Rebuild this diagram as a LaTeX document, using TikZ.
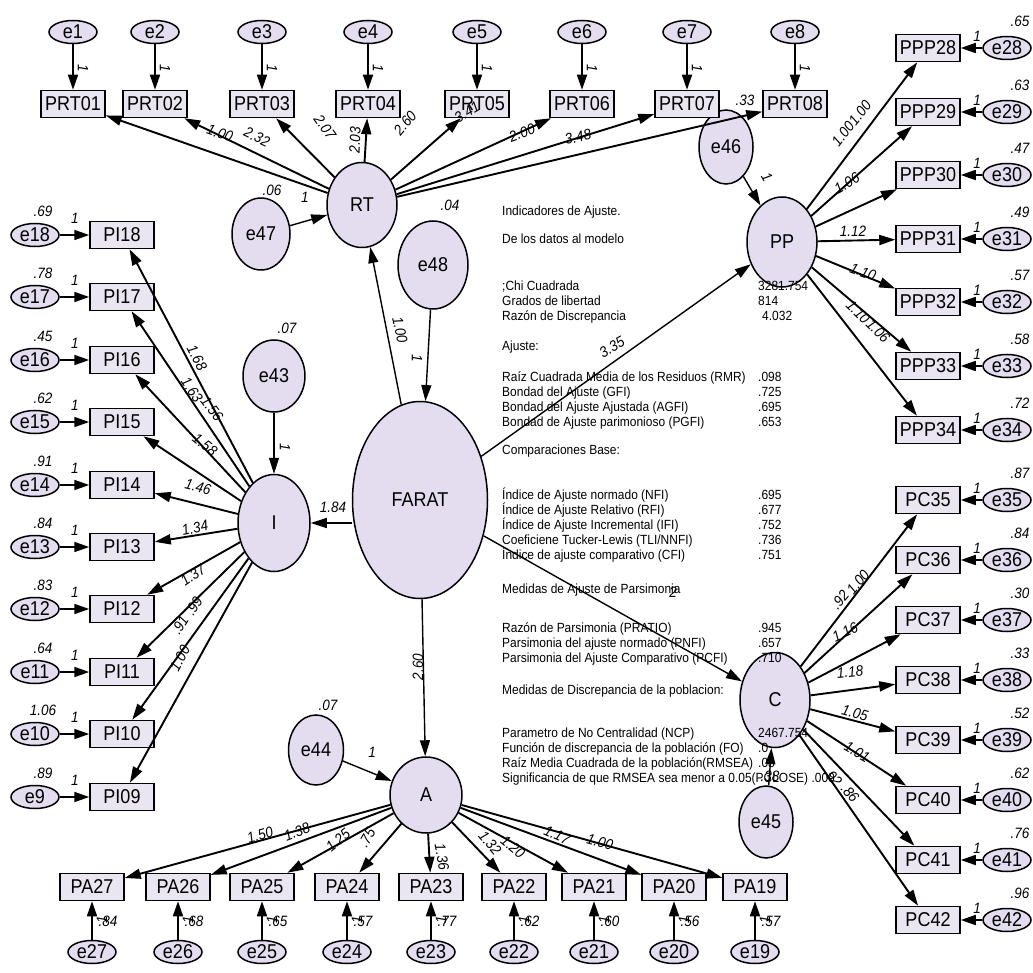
\documentclass[tikz,border=0pt]{standalone}
\usepackage{fontspec}
\setmainfont{Liberation Sans}
\newfontfamily\amosfont{Liberation Sans}[FakeStretch=0.9]
\usetikzlibrary{arrows.meta,shapes.geometric}
\definecolor{boxfill}{RGB}{233,229,241}
\definecolor{latfill}{RGB}{228,220,239}
\tikzset{
  obs/.style={draw, line width=1.5pt, fill=boxfill, minimum width=64pt, minimum height=27pt, inner sep=0pt, font=\amosfont\fontsize{20}{20}\selectfont},
  err/.style={ellipse, draw, line width=1.5pt, fill=latfill, minimum width=48pt, minimum height=23pt, inner sep=0pt, font=\amosfont\fontsize{20}{20}\selectfont},
  lat/.style={ellipse, draw, line width=1.5pt, fill=latfill, inner sep=0pt, font=\amosfont\fontsize{20}{20}\selectfont},
  est/.style={inner sep=0pt, font=\amosfont\fontsize{15}{15}\selectfont\itshape},
  fitline/.style={inner sep=0pt, anchor=west, text height=9.5pt, text depth=2.5pt, font=\amosfont\fontsize{13.3}{14}\selectfont},
  load/.style={line width=1.9pt, -{Triangle[length=16pt,width=10pt]}},
  regr/.style={line width=1.4pt, -{Triangle[length=16pt,width=10pt]}},
  errarrow/.style={line width=1.7pt, -{Triangle[length=15pt,width=10pt]}}
}
\begin{document}
\begin{tikzpicture}[x=1pt,y=-1pt]
%%%%% START %%%%%
\useasboundingbox (0,0) rectangle (1033,973);

% latent variables and disturbances
\node[lat, minimum width=135pt, minimum height=197pt] (FARAT) at (420,500) {FARAT};
\node[lat, minimum width=70pt, minimum height=85pt] (RT) at (362,205) {RT};
\node[lat, minimum width=72pt, minimum height=97pt] (I) at (274,523) {I};
\node[lat, minimum width=72pt, minimum height=76pt] (A) at (426,795) {A};
\node[lat, minimum width=70pt, minimum height=90pt] (PP) at (782,242) {PP};
\node[lat, minimum width=70pt, minimum height=95pt] (C) at (775,700) {C};
\node[lat, minimum width=58pt, minimum height=72pt] (e47) at (261,234) {e47};
\node[lat, minimum width=70pt, minimum height=88pt] (e48) at (433,265) {e48};
\node[lat, minimum width=62pt, minimum height=72pt] (e43) at (274,376) {e43};
\node[lat, minimum width=55pt, minimum height=70pt] (e44) at (316,750) {e44};
\node[lat, minimum width=54pt, minimum height=74pt] (e46) at (726,147) {e46};
\node[lat, minimum width=54pt, minimum height=72pt] (e45) at (766,822) {e45};

% top row
\node[err] (e1) at (73,32) {e1};
\node[err] (e2) at (155,32) {e2};
\node[err] (e3) at (262,32) {e3};
\node[err] (e4) at (368,32) {e4};
\node[err] (e5) at (477,32) {e5};
\node[err] (e6) at (582,32) {e6};
\node[err] (e7) at (687,32) {e7};
\node[err] (e8) at (795,32) {e8};
\node[obs] (PRT01) at (73,104) {PRT01};
\node[obs] (PRT02) at (155,104) {PRT02};
\node[obs] (PRT03) at (262,104) {PRT03};
\node[obs] (PRT04) at (368,104) {PRT04};
\node[obs] (PRT05) at (477,104) {PRT05};
\node[obs] (PRT06) at (582,104) {PRT06};
\node[obs] (PRT07) at (687,104) {PRT07};
\node[obs] (PRT08) at (795,104) {PRT08};

% left column
\node[err] (e18) at (35,235) {e18};
\node[err] (e17) at (35,297) {e17};
\node[err] (e16) at (35,360) {e16};
\node[err] (e15) at (35,422) {e15};
\node[err] (e14) at (35,485) {e14};
\node[err] (e13) at (35,547) {e13};
\node[err] (e12) at (35,609) {e12};
\node[err] (e11) at (35,672) {e11};
\node[err] (e10) at (35,734) {e10};
\node[err] (e9) at (35,797) {e9};
\node[obs] (PI18) at (122,235) {PI18};
\node[obs] (PI17) at (122,297) {PI17};
\node[obs] (PI16) at (122,360) {PI16};
\node[obs] (PI15) at (122,422) {PI15};
\node[obs] (PI14) at (122,485) {PI14};
\node[obs] (PI13) at (122,547) {PI13};
\node[obs] (PI12) at (122,609) {PI12};
\node[obs] (PI11) at (122,672) {PI11};
\node[obs] (PI10) at (122,734) {PI10};
\node[obs] (PI09) at (122,797) {PI09};

% bottom row
\node[obs] (PA27) at (92,887) {PA27};
\node[obs] (PA26) at (178,887) {PA26};
\node[obs] (PA25) at (262,887) {PA25};
\node[obs] (PA24) at (347,887) {PA24};
\node[obs] (PA23) at (431,887) {PA23};
\node[obs] (PA22) at (514,887) {PA22};
\node[obs] (PA21) at (594,887) {PA21};
\node[obs] (PA20) at (674,887) {PA20};
\node[obs] (PA19) at (755,887) {PA19};
\node[err] (e27) at (92,952) {e27};
\node[err] (e26) at (178,952) {e26};
\node[err] (e25) at (262,952) {e25};
\node[err] (e24) at (347,952) {e24};
\node[err] (e23) at (431,952) {e23};
\node[err] (e22) at (514,952) {e22};
\node[err] (e21) at (594,952) {e21};
\node[err] (e20) at (674,952) {e20};
\node[err] (e19) at (755,952) {e19};

% right column
\node[obs] (PPP28) at (928,48) {PPP28};
\node[obs] (PPP29) at (928,112) {PPP29};
\node[obs] (PPP30) at (928,175) {PPP30};
\node[obs] (PPP31) at (928,239) {PPP31};
\node[obs] (PPP32) at (928,302) {PPP32};
\node[obs] (PPP33) at (928,366) {PPP33};
\node[obs] (PPP34) at (928,430) {PPP34};
\node[obs] (PC35) at (928,500) {PC35};
\node[obs] (PC36) at (928,560) {PC36};
\node[obs] (PC37) at (928,620) {PC37};
\node[obs] (PC38) at (928,680) {PC38};
\node[obs] (PC39) at (928,740) {PC39};
\node[obs] (PC40) at (928,800) {PC40};
\node[obs] (PC41) at (928,860) {PC41};
\node[obs] (PC42) at (928,920) {PC42};
\node[err] (e28) at (1007,48) {e28};
\node[err] (e29) at (1007,112) {e29};
\node[err] (e30) at (1007,175) {e30};
\node[err] (e31) at (1007,239) {e31};
\node[err] (e32) at (1007,302) {e32};
\node[err] (e33) at (1007,366) {e33};
\node[err] (e34) at (1007,430) {e34};
\node[err] (e35) at (1007,500) {e35};
\node[err] (e36) at (1007,560) {e36};
\node[err] (e37) at (1007,620) {e37};
\node[err] (e38) at (1007,680) {e38};
\node[err] (e39) at (1007,740) {e39};
\node[err] (e40) at (1007,800) {e40};
\node[err] (e41) at (1007,860) {e41};
\node[err] (e42) at (1007,920) {e42};

% fit indices
\node[fitline] (t1) at (502,212) {Indicadores de Ajuste.};
\node[fitline] (t2) at (502,240) {De los datos al modelo};
\node[fitline] (t3) at (502,287) {;Chi Cuadrada};
\node[fitline] (t4) at (502,302) {Grados de libertad};
\node[fitline] (t5) at (502,317) {Razón de Discrepancia};
\node[fitline] (t6) at (502,347) {Ajuste:};
\node[fitline] (t7) at (502,378) {Raíz Cuadrada Media de los Residuos (RMR)};
\node[fitline] (t8) at (502,393) {Bondad del Ajuste (GFI)};
\node[fitline] (t9) at (502,408) {Bondad del Ajuste Ajustada (AGFI)};
\node[fitline] (t10) at (502,423) {Bondad de Ajuste parimonioso (PGFI)};
\node[fitline] (t11) at (502,451) {Comparaciones Base:};
\node[fitline] (t12) at (502,496) {Índice de Ajuste normado (NFI)};
\node[fitline] (t13) at (502,511) {Índice de Ajuste Relativo (RFI)};
\node[fitline] (t14) at (502,526) {Índice de Ajuste Incremental (IFI)};
\node[fitline] (t15) at (502,541) {Coeficiene Tucker-Lewis (TLI/NNFI)};
\node[fitline] (t16) at (502,556) {Índice de ajuste comparativo (CFI)};
\node[fitline] (t17) at (502,590) {Medidas de Ajuste de Parsimonia};
\node[fitline] (t18) at (502,629) {Razón de Parsimonia (PRATIO)};
\node[fitline] (t19) at (502,644) {Parsimonia del ajuste normado (PNFI)};
\node[fitline] (t20) at (502,659) {Parsimonia del Ajuste Comparativo (PCFI)};
\node[fitline] (t21) at (502,691) {Medidas de Discrepancia de la poblacion:};
\node[fitline] (t22) at (502,734) {Parametro de No Centralidad (NCP)};
\node[fitline] (t23) at (502,749) {Función de discrepancia de la población (FO)};
\node[fitline] (t24) at (502,764) {Raíz Media Cuadrada de la población(RMSEA)};
\node[fitline] (t25) at (502,779) {Significancia de que RMSEA sea menor a 0.05(PCLOSE) .000};
\node[fitline] (f3) at (758,287) {3281.754};
\node[fitline] (f4) at (758,302) {814};
\node[fitline] (f5) at (762,317) {4.032};
\node[fitline] (f7) at (758,378) {.098};
\node[fitline] (f8) at (758,393) {.725};
\node[fitline] (f9) at (758,408) {.695};
\node[fitline] (f10) at (758,423) {.653};
\node[fitline] (f12) at (758,496) {.695};
\node[fitline] (f13) at (758,511) {.677};
\node[fitline] (f14) at (758,526) {.752};
\node[fitline] (f15) at (758,541) {.736};
\node[fitline] (f16) at (758,556) {.751};
\node[fitline] (f18) at (758,629) {.945};
\node[fitline] (f19) at (758,644) {.657};
\node[fitline] (f20) at (758,659) {.710};
\node[fitline] (f22) at (758,734) {2467.754};
\node[fitline] (f23) at (758,749) {.0};
\node[fitline] (f24) at (758,764) {.08};

% error paths
\draw[errarrow] (e1) -- (PRT01);
\draw[errarrow] (e2) -- (PRT02);
\draw[errarrow] (e3) -- (PRT03);
\draw[errarrow] (e4) -- (PRT04);
\draw[errarrow] (e5) -- (PRT05);
\draw[errarrow] (e6) -- (PRT06);
\draw[errarrow] (e7) -- (PRT07);
\draw[errarrow] (e8) -- (PRT08);
\draw[errarrow] (e18) -- (PI18);
\draw[errarrow] (e17) -- (PI17);
\draw[errarrow] (e16) -- (PI16);
\draw[errarrow] (e15) -- (PI15);
\draw[errarrow] (e14) -- (PI14);
\draw[errarrow] (e13) -- (PI13);
\draw[errarrow] (e12) -- (PI12);
\draw[errarrow] (e11) -- (PI11);
\draw[errarrow] (e10) -- (PI10);
\draw[errarrow] (e9) -- (PI09);
\draw[errarrow] (e27) -- (PA27);
\draw[errarrow] (e26) -- (PA26);
\draw[errarrow] (e25) -- (PA25);
\draw[errarrow] (e24) -- (PA24);
\draw[errarrow] (e23) -- (PA23);
\draw[errarrow] (e22) -- (PA22);
\draw[errarrow] (e21) -- (PA21);
\draw[errarrow] (e20) -- (PA20);
\draw[errarrow] (e19) -- (PA19);
\draw[errarrow] (e28) -- (PPP28);
\draw[errarrow] (e29) -- (PPP29);
\draw[errarrow] (e30) -- (PPP30);
\draw[errarrow] (e31) -- (PPP31);
\draw[errarrow] (e32) -- (PPP32);
\draw[errarrow] (e33) -- (PPP33);
\draw[errarrow] (e34) -- (PPP34);
\draw[errarrow] (e35) -- (PC35);
\draw[errarrow] (e36) -- (PC36);
\draw[errarrow] (e37) -- (PC37);
\draw[errarrow] (e38) -- (PC38);
\draw[errarrow] (e39) -- (PC39);
\draw[errarrow] (e40) -- (PC40);
\draw[errarrow] (e41) -- (PC41);
\draw[errarrow] (e42) -- (PC42);

% loadings
\draw[load] (RT) -- (PRT01);
\draw[load] (RT) -- (PRT02);
\draw[load] (RT) -- (PRT03);
\draw[load] (RT) -- (PRT04);
\draw[load] (RT) -- (PRT05);
\draw[load] (RT) -- (PRT06);
\draw[load] (RT) -- (PRT07);
\draw[load] (RT) -- (PRT08);
\draw[load] (I) -- (PI18);
\draw[load] (I) -- (PI17);
\draw[load] (I) -- (PI16);
\draw[load] (I) -- (PI15);
\draw[load] (I) -- (PI14);
\draw[load] (I) -- (PI13);
\draw[load] (I) -- (PI12);
\draw[load] (I) -- (PI11);
\draw[load] (I) -- (PI10);
\draw[load] (I) -- (PI09);
\draw[load] (A) -- (PA27);
\draw[load] (A) -- (PA26);
\draw[load] (A) -- (PA25);
\draw[load] (A) -- (PA24);
\draw[load] (A) -- (PA23);
\draw[load] (A) -- (PA22);
\draw[load] (A) -- (PA21);
\draw[load] (A) -- (PA20);
\draw[load] (A) -- (PA19);
\draw[load] (PP) -- (PPP28);
\draw[load] (PP) -- (PPP29);
\draw[load] (PP) -- (PPP30);
\draw[load] (PP) -- (PPP31);
\draw[load] (PP) -- (PPP32);
\draw[load] (PP) -- (PPP33);
\draw[load] (PP) -- (PPP34);
\draw[load] (C) -- (PC35);
\draw[load] (C) -- (PC36);
\draw[load] (C) -- (PC37);
\draw[load] (C) -- (PC38);
\draw[load] (C) -- (PC39);
\draw[load] (C) -- (PC40);
\draw[load] (C) -- (PC41);
\draw[load] (C) -- (PC42);

% structural paths
\draw[regr] (FARAT) -- (RT);
\draw[regr] (I -| FARAT.west) -- (I);
\draw[regr] (FARAT) -- (A);
\draw[regr] (FARAT) -- (PP);
\draw[regr] (FARAT) -- (C);
\draw[regr] (e47) -- (RT);
\draw[regr] (e48) -- (FARAT);
\draw[regr] (e43) -- (I);
\draw[regr] (e44) -- (A);
\draw[regr] (e46) -- (PP);
\draw[regr] (e45) -- (C);

% estimates, top
\node[est, rotate=-90] (o1) at (83,68) {1};
\node[est, rotate=-90] (o2) at (165,68) {1};
\node[est, rotate=-90] (o3) at (272,68) {1};
\node[est, rotate=-90] (o4) at (378,68) {1};
\node[est, rotate=-90] (o5) at (487,68) {1};
\node[est, rotate=-90] (o6) at (592,68) {1};
\node[est, rotate=-90] (o7) at (697,68) {1};
\node[est, rotate=-90] (o8) at (805,68) {1};
\node[est, rotate=-19] (k1) at (220,133) {1.00};
\node[est, rotate=-26] (k2) at (257,137) {2.32};
\node[est, rotate=-55] (k3) at (325,127) {2.07};
\node[est, rotate=88] (k4) at (355,140) {2.03};
\node[est, rotate=50] (k5) at (405,123) {2.60};
\node[est, rotate=30] (k6) at (467,112) {3.41};
\node[est, rotate=20] (k7) at (522,133) {2.00};
\node[est, rotate=12] (k8) at (578,137) {3.48};

% estimates, left
\node[est] (v18) at (43,211) {.69};
\node[est] (v17) at (43,273) {.78};
\node[est] (v16) at (43,336) {.45};
\node[est] (v15) at (43,398) {.62};
\node[est] (v14) at (43,461) {.91};
\node[est] (v13) at (43,523) {.84};
\node[est] (v12) at (43,585) {.83};
\node[est] (v11) at (43,648) {.64};
\node[est] (v10) at (43,710) {1.06};
\node[est] (v9) at (43,773) {.89};
\node[est] (o18) at (75,218) {1};
\node[est] (o17) at (75,280) {1};
\node[est] (o16) at (75,343) {1};
\node[est] (o15) at (75,405) {1};
\node[est] (o14) at (75,468) {1};
\node[est] (o13) at (75,530) {1};
\node[est] (o12) at (75,592) {1};
\node[est] (o11) at (75,655) {1};
\node[est] (o10) at (75,717) {1};
\node[est] (o9) at (75,780) {1};
\node[est, rotate=-62] (k18) at (197,358) {1.68};
\node[est, rotate=-56] (k17) at (192,390) {1.63};
\node[est, rotate=-52] (k16) at (212,409) {1.56};
\node[est, rotate=-38] (k15) at (205,445) {1.58};
\node[est, rotate=-14] (k14) at (198,487) {1.46};
\node[est, rotate=12] (k13) at (195,528) {1.34};
\node[est, rotate=35] (k12) at (193,575) {1.37};
\node[est, rotate=58] (k11) at (194,606) {.99};
\node[est, rotate=58] (k10) at (180,625) {.91};
\node[est, rotate=62] (k9) at (180,658) {1.00};

% estimates, bottom
\node[est, rotate=90] (o27) at (102,920) {1};
\node[est, rotate=90] (o26) at (188,920) {1};
\node[est, rotate=90] (o25) at (272,920) {1};
\node[est, rotate=90] (o24) at (357,920) {1};
\node[est, rotate=90] (o23) at (441,920) {1};
\node[est, rotate=90] (o22) at (524,920) {1};
\node[est, rotate=90] (o21) at (604,920) {1};
\node[est, rotate=90] (o20) at (684,920) {1};
\node[est, rotate=90] (o19) at (765,920) {1};
\node[est] (v27) at (108,921) {.84};
\node[est] (v26) at (194,921) {.68};
\node[est] (v25) at (278,921) {.65};
\node[est] (v24) at (363,921) {.57};
\node[est] (v23) at (447,921) {.77};
\node[est] (v22) at (530,921) {.62};
\node[est] (v21) at (610,921) {.60};
\node[est] (v20) at (690,921) {.56};
\node[est] (v19) at (771,921) {.57};
\node[est, rotate=16] (k27) at (260,835) {1.50};
\node[est, rotate=21] (k26) at (297,832) {1.38};
\node[est, rotate=40] (k25) at (338,840) {1.25};
\node[est, rotate=60] (k24) at (367,838) {.75};
\node[est, rotate=-80] (k23) at (442,857) {1.36};
\node[est, rotate=-50] (k22) at (490,843) {1.32};
\node[est, rotate=-40] (k21) at (513,847) {1.20};
\node[est, rotate=-25] (k20) at (557,835) {1.17};
\node[est, rotate=-15] (k19) at (600,842) {1.00};

% estimates, right
\node[est] (v28) at (1020,21) {.65};
\node[est] (v29) at (1020,85) {.63};
\node[est] (v30) at (1020,148) {.47};
\node[est] (v31) at (1020,212) {.49};
\node[est] (v32) at (1020,275) {.57};
\node[est] (v33) at (1020,339) {.58};
\node[est] (v34) at (1020,403) {.72};
\node[est] (v35) at (1020,473) {.87};
\node[est] (v36) at (1020,533) {.84};
\node[est] (v37) at (1020,593) {.30};
\node[est] (v38) at (1020,653) {.33};
\node[est] (v39) at (1020,713) {.52};
\node[est] (v40) at (1020,773) {.62};
\node[est] (v41) at (1020,833) {.76};
\node[est] (v42) at (1020,893) {.96};
\node[est] (o28) at (977,36) {1};
\node[est] (o29) at (977,100) {1};
\node[est] (o30) at (977,163) {1};
\node[est] (o31) at (977,227) {1};
\node[est] (o32) at (977,290) {1};
\node[est] (o33) at (977,354) {1};
\node[est] (o34) at (977,418) {1};
\node[est] (o35) at (977,488) {1};
\node[est] (o36) at (977,548) {1};
\node[est] (o37) at (977,608) {1};
\node[est] (o38) at (977,668) {1};
\node[est] (o39) at (977,728) {1};
\node[est] (o40) at (977,788) {1};
\node[est] (o41) at (977,848) {1};
\node[est] (o42) at (977,908) {1};
\node[est, rotate=52] (k28) at (860,113) {1.00};
\node[est, rotate=52] (k29) at (843,134) {1.00};
\node[est, rotate=30] (k30) at (847,183) {1.06};
\node[est] (k31) at (853,231) {1.12};
\node[est, rotate=-20] (k32) at (863,272) {1.10};
\node[est, rotate=-45] (k33) at (858,312) {1.10};
\node[est, rotate=-45] (k34) at (878,331) {1.06};
\node[est, rotate=50] (k35) at (858,582) {1.00};
\node[est, rotate=50] (k36) at (840,600) {.92};
\node[est, rotate=25] (k37) at (845,632) {1.16};
\node[est, rotate=5] (k38) at (850,672) {1.18};
\node[est, rotate=-15] (k39) at (855,713) {1.05};
\node[est, rotate=-30] (k40) at (857,752) {1.01};
\node[est, rotate=-50] (k41) at (833,777) {.92};
\node[est, rotate=-50] (k42) at (850,793) {.86};

% estimates, structural part
\node[est, rotate=-77] (sRT) at (400,330) {1.00};
\node[est] (sI) at (333,507) {1.84};
\node[est, rotate=90] (sA) at (418,667) {2.60};
\node[est, rotate=30] (sPP) at (612,347) {3.35};
\node[est] (sC) at (673,592) {2};
\node[est] (v47) at (272,190) {.06};
\node[est] (o47) at (305,197) {1};
\node[est] (v48) at (450,205) {.04};
\node[est, rotate=-90] (o48) at (417,358) {1};
\node[est] (v43) at (287,328) {.07};
\node[est, rotate=-90] (o43) at (285,447) {1};
\node[est] (v44) at (328,705) {.07};
\node[est] (o44) at (372,752) {1};
\node[est] (v46) at (745,100) {.33};
\node[est, rotate=-60] (o46) at (767,177) {1};
\node[est] (v45) at (770,776) {.38};

%%%%% END %%%%%
\end{tikzpicture}
\end{document}
